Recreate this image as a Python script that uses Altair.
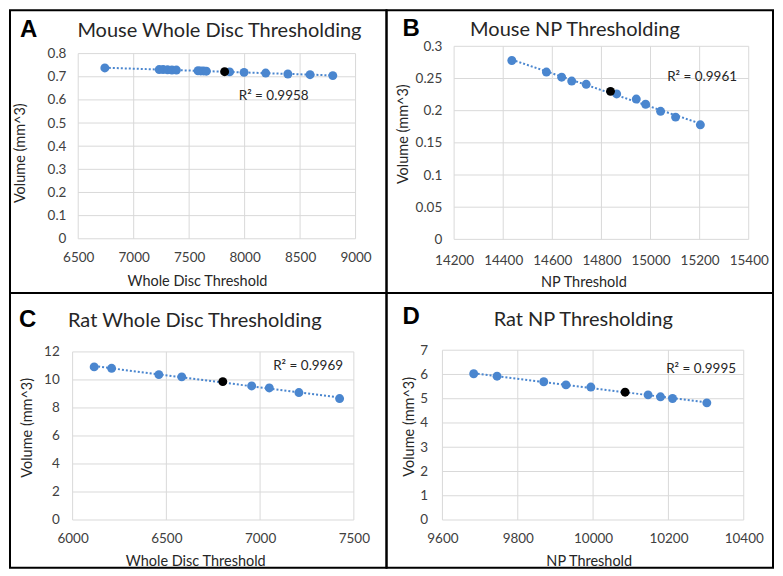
import altair as alt
import pandas as pd

# ---------------- data ----------------
# Panel A: Mouse Whole Disc Thresholding
a_x = [6740, 7230, 7265, 7305, 7345, 7385, 7580, 7605, 7630, 7655, 7865, 7995, 8190, 8390, 8590, 8795]
a_y = [0.738, 0.731, 0.731, 0.730, 0.729, 0.729, 0.726, 0.725, 0.725, 0.724, 0.721, 0.719, 0.716, 0.712, 0.709, 0.705]
a_ref = [7820, 0.722]
a_xticks = [6500, 7000, 7500, 8000, 8500, 9000]
a_yticks = [0, 0.1, 0.2, 0.3, 0.4, 0.5, 0.6, 0.7, 0.8]

# Panel B: Mouse NP Thresholding
b_x = [14435, 14576, 14638, 14679, 14738, 14862, 14942, 14980, 15041, 15102, 15203]
b_y = [0.278, 0.260, 0.252, 0.246, 0.241, 0.226, 0.218, 0.210, 0.199, 0.190, 0.178]
b_ref = [14837, 0.230]
b_xticks = [14200, 14400, 14600, 14800, 15000, 15200, 15400]
b_yticks = [0, 0.05, 0.1, 0.15, 0.2, 0.25, 0.3]

# Panel C: Rat Whole Disc Thresholding
c_x = [6115, 6208, 6460, 6582, 6955, 7049, 7207, 7424]
c_y = [10.93, 10.83, 10.38, 10.22, 9.57, 9.43, 9.10, 8.67]
c_ref = [6801, 9.88]
c_xticks = [6000, 6500, 7000, 7500]
c_yticks = [0, 2, 4, 6, 8, 10, 12]

# Panel D: Rat NP Thresholding
d_x = [9683, 9745, 9869, 9928, 9994, 10146, 10179, 10211, 10302]
d_y = [6.03, 5.93, 5.70, 5.57, 5.48, 5.16, 5.08, 5.01, 4.83]
d_ref = [10085, 5.27]
d_xticks = [9600, 9800, 10000, 10200, 10400]
d_yticks = [0, 1, 2, 3, 4, 5, 6, 7]

letters = ["A", "B", "C", "D"]
titles = ["Mouse Whole Disc Thresholding", "Mouse NP Thresholding",
          "Rat Whole Disc Thresholding", "Rat NP Thresholding"]
x_titles = ["Whole Disc Threshold", "NP Threshold", "Whole Disc Threshold", "NP Threshold"]
y_title = "Volume (mm^3)"
r2_labels = ["R\u00b2 = 0.9958", "R\u00b2 = 0.9961", "R\u00b2 = 0.9969", "R\u00b2 = 0.9995"]

# ---------------- styling ----------------
FONT = "Lato"
BLUE = "#4a86cf"
GRID = "#d9d9d9"
LABEL = "#404040"
TEXT = "#262626"


def text_layer(txt, x, y, size, align="center", angle=0, font=FONT, weight="normal", color=TEXT):
    return alt.Chart(pd.DataFrame({"t": [txt]})).mark_text(
        font=font, fontSize=size, fontWeight=weight, align=align,
        baseline="alphabetic", angle=angle, color=color
    ).encode(text="t:N", x=alt.value(x), y=alt.value(y))


def make_panel(i, xs, ys, ref, xticks, yticks, origin, size, plot_x, plot_y,
               letter_pos, title_pos, ylab_right, xlab_base, xtitle_pos, ytitle_pos, r2_pos):
    ox, oy = origin
    W, H = size
    xsc = alt.Scale(domain=[xticks[0], xticks[-1]], range=[plot_x[0] - ox, plot_x[1] - ox],
                    nice=False, zero=False)
    ysc = alt.Scale(domain=[yticks[0], yticks[-1]], range=[plot_y[1] - oy, plot_y[0] - oy],
                    nice=False, zero=False)
    common = dict(grid=False, domain=False, ticks=False, title=None, labelPadding=0,
                  labelFont=FONT, labelFontSize=13.5, labelColor=LABEL,
                  labelFlush=False, labelOverlap=False)
    xax = alt.Axis(values=xticks, format="d", offset=-(H - (xlab_base - oy)),
                   labelBaseline="alphabetic", **common)
    yax = alt.Axis(values=yticks, format="~g", offset=-(ylab_right - ox),
                   labelBaseline="middle", **common)

    def X(f):
        return alt.X(f, type="quantitative", scale=xsc, axis=xax)

    def Y(f):
        return alt.Y(f, type="quantitative", scale=ysc, axis=yax)

    vg = pd.DataFrame({"gx": xticks, "g0": yticks[0], "g1": yticks[-1]})
    hg = pd.DataFrame({"gy": yticks, "h0": xticks[0], "h1": xticks[-1]})
    vgrid = alt.Chart(vg).mark_rule(color=GRID, strokeWidth=1).encode(x=X("gx"), y=Y("g0"), y2="g1")
    hgrid = alt.Chart(hg).mark_rule(color=GRID, strokeWidth=1).encode(y=Y("gy"), x=X("h0"), x2="h1")

    pts = pd.DataFrame({"x": xs, "y": ys})
    allpts = pd.DataFrame({"x": xs + [ref[0]], "y": ys + [ref[1]]})
    refdf = pd.DataFrame({"x": [ref[0]], "y": [ref[1]]})

    trend = alt.Chart(allpts).transform_regression("x", "y").mark_line(
        color=BLUE, strokeDash=[2, 2], strokeWidth=2).encode(x=X("x"), y=Y("y"))
    dots = alt.Chart(pts).mark_circle(size=80, color=BLUE, opacity=1).encode(x=X("x"), y=Y("y"))
    refdot = alt.Chart(refdf).mark_circle(size=80, color="black", opacity=1).encode(x=X("x"), y=Y("y"))

    texts = [
        text_layer(letters[i], letter_pos[0] - ox, letter_pos[1] - oy, 24, align="left",
                   font="Liberation Sans", weight="bold", color="black"),
        text_layer(titles[i], title_pos[0] - ox, title_pos[1] - oy, 20),
        text_layer(x_titles[i], xtitle_pos[0] - ox, xtitle_pos[1] - oy, 14.5),
        text_layer(y_title, ytitle_pos[0] - ox, ytitle_pos[1] - oy, 14.5, angle=270),
        text_layer(r2_labels[i], r2_pos[0] - ox, r2_pos[1] - oy, 13.5),
    ]
    return alt.layer(hgrid, vgrid, trend, dots, refdot, *texts).properties(width=W, height=H)


W1, W2, H1, H2 = 377, 387, 283, 275

pA = make_panel(0, a_x, a_y, a_ref, a_xticks, a_yticks, (9, 9), (W1, H1),
                (77.3, 355), (52.3, 237.7), (19, 35.7), (218.7, 35.7), 65, 260,
                (196.7, 285), (24, 152), (273, 98.3))
pB = make_panel(1, b_x, b_y, b_ref, b_xticks, b_yticks, (386, 9), (W2, H1),
                (453.7, 748.7), (45, 238.3), (402, 35), (574.7, 35), 441.3, 263.3,
                (583.7, 286), (408, 133), (702, 80))
pC = make_panel(2, c_x, c_y, c_ref, c_xticks, c_yticks, (9, 292), (W1, H2),
                (71.7, 353.3), (351, 519.3), (18, 326), (194, 326), 58.3, 542,
                (195, 565), (31, 427), (307.5, 369.3))
pD = make_panel(3, d_x, d_y, d_ref, d_xticks, d_yticks, (386, 292), (W2, H2),
                (442, 743.7), (349.3, 519.3), (402, 322.7), (583, 325.3), 427, 542,
                (589, 565), (414, 426), (701, 372))

chart = alt.concat(pA, pB, pC, pD, columns=2, spacing=0, bounds="flush").properties(
    padding=1, background="white"
).configure_view(stroke="black", strokeWidth=2)

chart.save("out.html", embed_options={"renderer": "svg", "actions": False})
